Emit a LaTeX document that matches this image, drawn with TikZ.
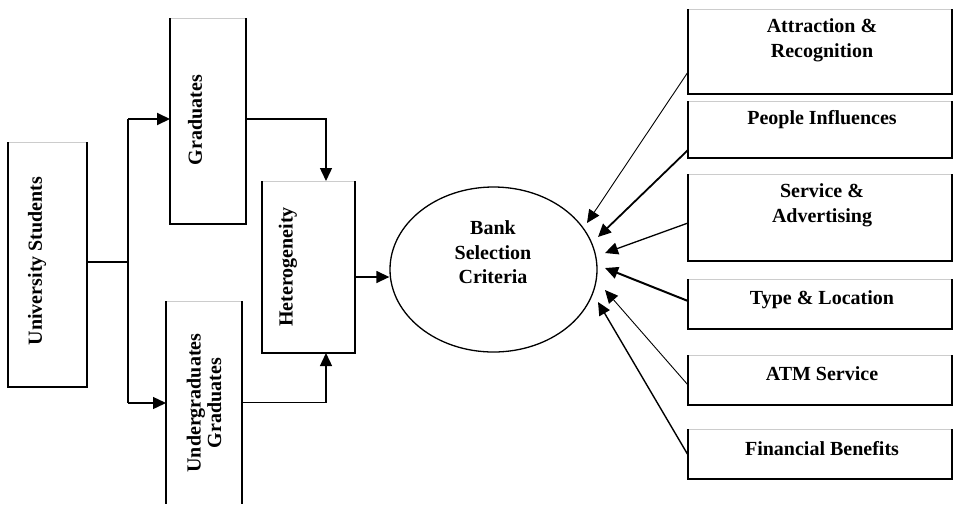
\documentclass[tikz,border=0pt]{standalone}
\usepackage{fontspec}
\setmainfont{Liberation Serif}
\usetikzlibrary{arrows.meta,shapes.geometric,calc}
\newcommand\sidesbox[1]{%
  \draw[gray!40,line width=1pt] (#1.north west) -- (#1.north east);
  \draw[line width=1.5pt] (#1.north west) -- (#1.south west) -- (#1.south east) -- (#1.north east);}
\begin{document}
\begin{tikzpicture}[x=1pt,y=-1pt,
  sbox/.style={draw=none,minimum width=#1,inner sep=0,outer sep=0},
  lbl/.style={font=\bfseries\fontsize{20}{24.5}\selectfont,align=center,inner sep=0},
  arr/.style={line width=1.4pt,-{Triangle[length=13pt,width=12pt]}},
  conn/.style={line width=1.4pt}]
\useasboundingbox (0,0) rectangle (953,504);
% left boxes
\node[sbox=79pt,minimum height=245pt] (us) at (47.5,264.5) {};
\node[sbox=76pt,minimum height=206pt] (grad) at (208,121) {};
\node[sbox=76pt,minimum height=203pt] (ug) at (204,402.5) {};
\node[sbox=93pt,minimum height=172pt] (het) at (308.5,267) {};
\sidesbox{us}
\sidesbox{grad}
\sidesbox{het}
\draw[gray!40,line width=1pt] (ug.north west) -- (ug.north east);
\draw[line width=1.5pt] (ug.north west) -- (ug.south west);
\draw[line width=1.5pt] (ug.north east) -- (ug.south east);
\node[lbl,rotate=90] (usT) at (37,261) {University Students};
\node[lbl,rotate=90] (gradT) at (195,120) {Graduates};
\node[lbl,rotate=90] (hetT) at (288,267) {Heterogeneity};
\node[lbl,rotate=90,font=\bfseries\fontsize{20}{20.5}\selectfont] (ugT) at (204,403) {Undergraduates\\Graduates};
% ellipse
\node[ellipse,draw,line width=1.3pt,minimum width=207pt,minimum height=165pt,inner sep=0] (bsc) at (493.5,269.5) {};
\node[lbl] (bscT) at (493,252.5) {Bank\\Selection\\Criteria};
% right boxes
\node[sbox=264pt,minimum height=85pt] (attr) at (820,51.5) {};
\node[sbox=264pt,minimum height=57pt] (ppl) at (820,129.5) {};
\node[sbox=264pt,minimum height=87pt] (serv) at (820,217.5) {};
\node[sbox=264pt,minimum height=50pt] (type) at (820,304) {};
\node[sbox=264pt,minimum height=50pt] (atm) at (820,380) {};
\node[sbox=264pt,minimum height=50pt] (fin) at (820,454) {};
\foreach \b in {attr,ppl,serv,type,atm,fin} {\sidesbox{\b}}
\node[lbl] (attrT) at (822,40.5) {Attraction \&\\Recognition};
\node[lbl] (pplT) at (822,120) {People Influences};
\node[lbl] (servT) at (822,205.5) {Service \&\\Advertising};
\node[lbl] (typeT) at (822,300) {Type \& Location};
\node[lbl] (atmT) at (822,374) {ATM Service};
\node[lbl] (finT) at (822,449) {Financial Benefits};
% left connectors
\coordinate (j) at (128,262);
\coordinate (jt) at (128,119);
\coordinate (jb) at (128,403);
\draw[conn] ([yshift=2.5pt]us.east) -- (j);
\draw[conn] (jt) -- (jb);
\draw[arr,line width=2pt] (jt) -- (jt -| grad.west);
\draw[arr] (jb) -- (jb -| ug.west);
\coordinate (gout) at ([yshift=2pt]grad.east);
\coordinate (hin) at ([xshift=17.5pt]het.north);
\draw[arr] (gout) -| (hin);
\coordinate (hin2) at ([xshift=17.5pt]het.south);
\draw[arr] (ug.east) -| (hin2);
\coordinate (hout) at ([yshift=-10pt]het.east);
\draw[arr] (hout) -- (hout -| bsc.west);
% right connectors
\coordinate (t1) at (587,223);
\coordinate (t2) at (598,237);
\coordinate (t3) at (605,253);
\coordinate (t4) at (605,268);
\coordinate (t5) at (605,290);
\coordinate (t6) at (598,302);
\draw[arr,line width=0.9pt] ([yshift=-20.5pt]attr.west) -- (t1);
\draw[arr,line width=1.8pt] ([yshift=-20.5pt]ppl.west) -- (t2);
\draw[arr,line width=1.3pt] ([yshift=-5.5pt]serv.west) -- (t3);
\draw[arr,line width=2pt] ([yshift=3pt]type.west) -- (t4);
\draw[arr,line width=0.9pt] ([yshift=-5pt]atm.west) -- (t5);
\draw[arr,line width=1.4pt] ([yshift=-1pt]fin.west) -- (t6);
\end{tikzpicture}
\end{document}
